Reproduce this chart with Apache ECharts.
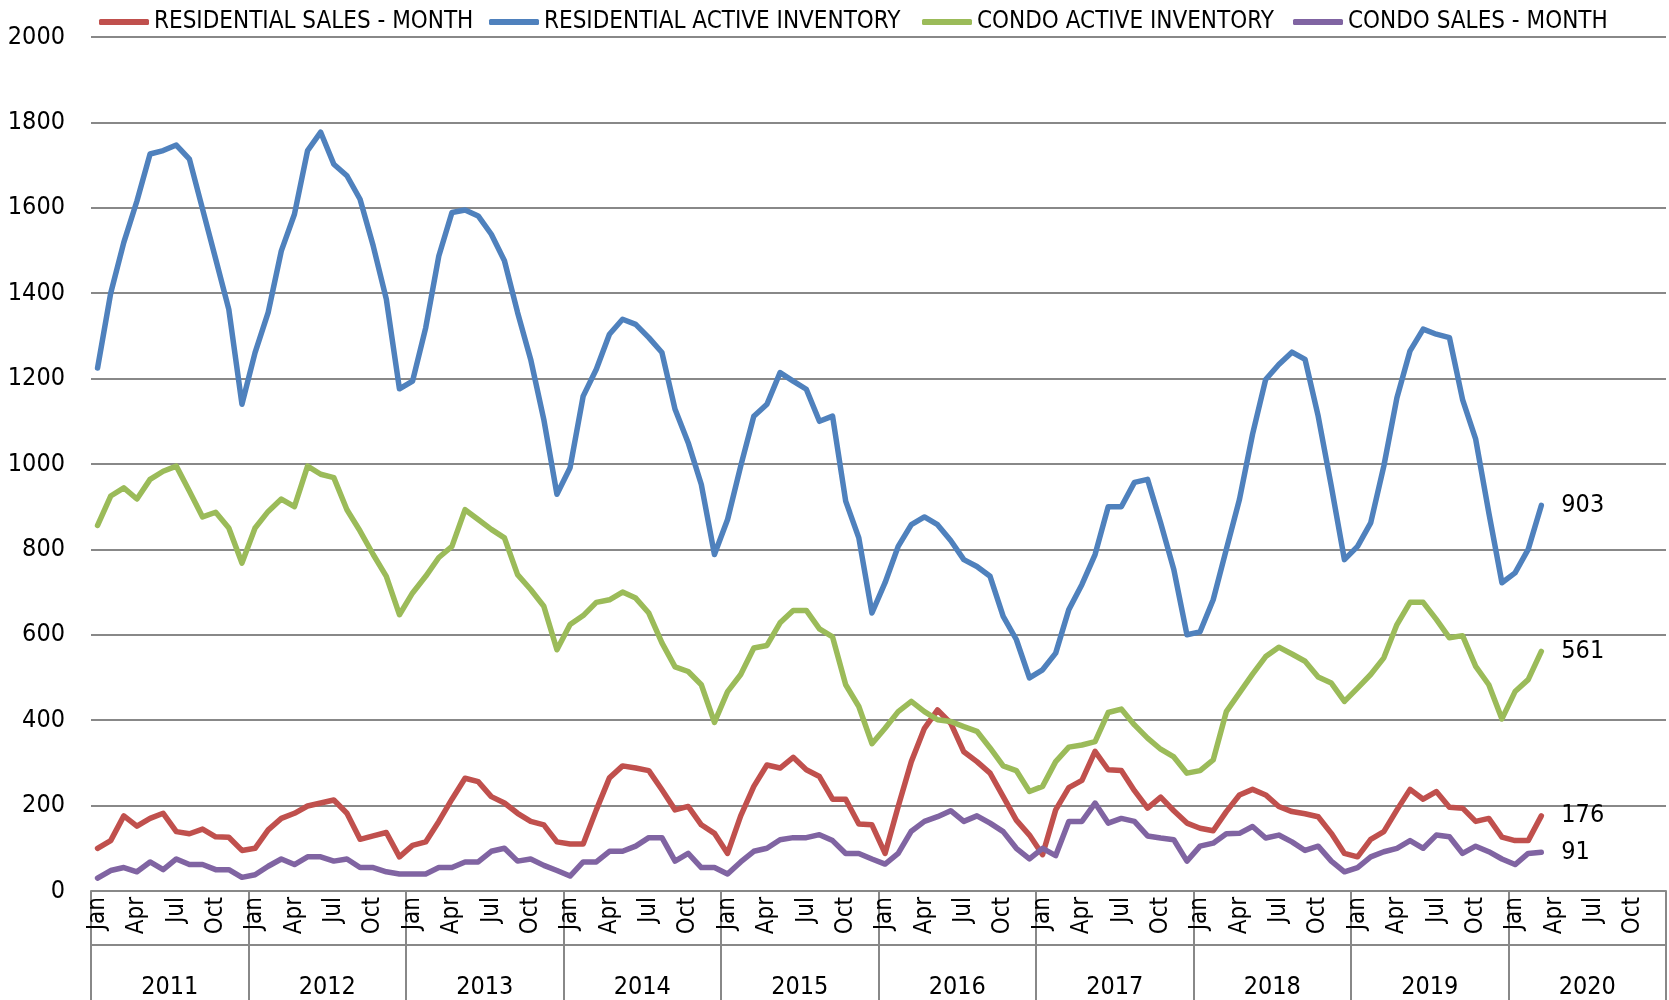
<!DOCTYPE html>
<html>
<head>
<meta charset="utf-8">
<script src="https://cdn.jsdelivr.net/npm/echarts@6/dist/echarts.min.js"></script>
<style>
html,body{margin:0;padding:0;background:#fff;}
#chart{width:1669px;height:1000px;}
</style>
</head>
<body>
<div id="chart"></div>
<script>
const monthNames = ['Jan','Feb','Mar','Apr','May','Jun','Jul','Aug','Sep','Oct','Nov','Dec'];
const years = ['2011','2012','2013','2014','2015','2016','2017','2018','2019','2020'];
const yTicks = [0,200,400,600,800,1000,1200,1400,1600,1800,2000];

const residentialSales = [
 100,118,176,152,170,182,139,134,145,127,126,95,
 100,143,170,182,199,206,213,182,121,129,137,80,
 107,115,163,215,264,256,221,206,182,163,155,115,
 110,110,190,265,293,288,282,237,190,198,155,135,
 88,176,245,295,288,313,284,268,215,215,157,155,
 88,198,303,381,424,393,326,303,276,221,166,131,
 85,190,242,259,327,284,282,235,194,220,188,159,
 147,141,186,225,238,225,198,186,181,174,135,88,
 80,121,139,190,238,215,233,196,194,163,170,126,
 118,118,176
];
const residentialInventory = [
 1225,1400,1519,1616,1726,1734,1747,1714,1597,1480,1362,1140,
 1261,1355,1499,1585,1734,1777,1702,1675,1620,1511,1386,1176,
 1194,1319,1487,1589,1595,1581,1538,1476,1355,1245,1104,929,
 991,1159,1222,1304,1339,1327,1296,1261,1128,1050,952,788,
 870,995,1112,1140,1214,1194,1175,1100,1112,913,827,651,
 722,807,858,876,858,821,776,760,737,643,589,499,
 518,557,659,718,788,900,900,957,964,862,753,600,
 607,682,800,917,1070,1198,1233,1262,1245,1112,948,776,
 807,862,995,1155,1265,1316,1304,1296,1151,1058,886,722,
 745,800,903
];
const condoInventory = [
 856,925,944,918,964,983,995,936,876,887,850,768,
 850,889,918,900,995,976,968,893,843,788,737,647,
 698,737,781,807,893,870,847,827,741,706,667,565,
 624,645,676,682,700,686,651,581,525,514,483,395,
 467,507,569,575,628,657,657,614,595,483,432,345,
 381,420,444,420,401,397,385,374,335,293,282,233,
 245,303,337,342,350,418,426,389,358,332,314,276,
 282,307,420,464,508,549,571,555,538,501,487,444,
 475,507,546,624,676,676,636,593,598,526,483,403,
 467,495,561
];
const condoSales = [
 30,48,55,45,68,50,75,62,62,50,50,32,
 38,58,75,62,80,80,70,75,55,55,45,40,
 40,40,55,55,68,68,93,100,70,75,60,48,
 35,68,68,93,93,105,125,125,70,88,55,55,
 40,68,93,100,120,125,125,132,118,88,88,75,
 63,88,140,163,174,188,163,176,159,139,100,75,
 100,83,163,163,206,159,170,163,129,124,120,70,
 105,112,134,135,151,124,131,115,95,105,70,45,
 55,80,92,100,118,100,131,127,88,105,92,75,
 62,88,91
];

const seriesNames = ['RESIDENTIAL SALES - MONTH','RESIDENTIAL ACTIVE INVENTORY','CONDO ACTIVE INVENTORY','CONDO SALES - MONTH'];
const seriesColors = ['#C0504D','#4F81BD','#9BBB59','#8064A2'];
const seriesData = [residentialSales, residentialInventory, condoInventory, condoSales];
const legendLeft = [94, 484, 917, 1288];

const FONT = "'Liberation Sans Narrow', 'DejaVu Sans Condensed', sans-serif";
const categories = [];
years.forEach(y => monthNames.forEach(m => categories.push(y + ' ' + m)));

const chart = echarts.init(document.getElementById('chart'), null, {renderer:'canvas'});
const option = {
  backgroundColor: '#ffffff',
  animation: false,
  textStyle: { fontFamily: FONT },
  legend: seriesNames.map((n, i) => ({
    data: [n],
    left: legendLeft[i],
    top: 5,
    icon: 'roundRect',
    itemWidth: 50,
    itemHeight: 6,
    itemGap: 0,
    textStyle: { fontFamily: FONT, fontSize: 24, color: '#000' }
  })),
  grid: { left: 91, right: 3, top: 37, bottom: 109, containLabel: false },
  xAxis: [
    {
      type: 'category',
      data: categories,
      boundaryGap: true,
      axisLine: { show: true, lineStyle: { color: '#888888', width: 2 } },
      axisTick: { show: false },
      axisLabel: {
        interval: 2,
        rotate: 90,
        margin: 6,
        fontFamily: FONT,
        fontSize: 24,
        color: '#000',
        formatter: v => v.split(' ')[1]
      },
      splitLine: { show: false }
    },
    {
      type: 'category',
      data: years,
      position: 'bottom',
      boundaryGap: true,
      axisLine: { show: false },
      axisTick: { show: true, interval: 0, length: 110, lineStyle: { color: '#888888', width: 2 } },
      axisLabel: { interval: 0, margin: 84, fontFamily: FONT, fontSize: 25, color: '#000' },
      splitLine: { show: false }
    },
    {
      type: 'category',
      data: years,
      position: 'bottom',
      offset: 54,
      axisLine: { show: true, lineStyle: { color: '#888888', width: 2 } },
      axisTick: { show: false },
      axisLabel: { show: false },
      splitLine: { show: false }
    }
  ],
  yAxis: {
    type: 'value',
    min: yTicks[0],
    max: yTicks[yTicks.length - 1],
    interval: yTicks[1] - yTicks[0],
    axisLine: { show: false },
    axisTick: { show: false },
    axisLabel: { margin: 26, fontFamily: FONT, fontSize: 25, color: '#000', formatter: v => String(v) },
    splitLine: { show: true, lineStyle: { color: '#888888', width: 2 } }
  },
  series: seriesNames.map((n, i) => ({
    name: n,
    type: 'line',
    xAxisIndex: 0,
    data: seriesData[i],
    showSymbol: false,
    symbol: 'none',
    color: seriesColors[i],
    lineStyle: { width: 5.5, color: seriesColors[i], cap: 'round', join: 'round' },
    endLabel: {
      show: true,
      distance: 20,
      formatter: p => String(p.value),
      fontFamily: FONT,
      fontSize: 25,
      color: '#000'
    }
  }))
};
chart.setOption(option);
</script>
</body>
</html>
